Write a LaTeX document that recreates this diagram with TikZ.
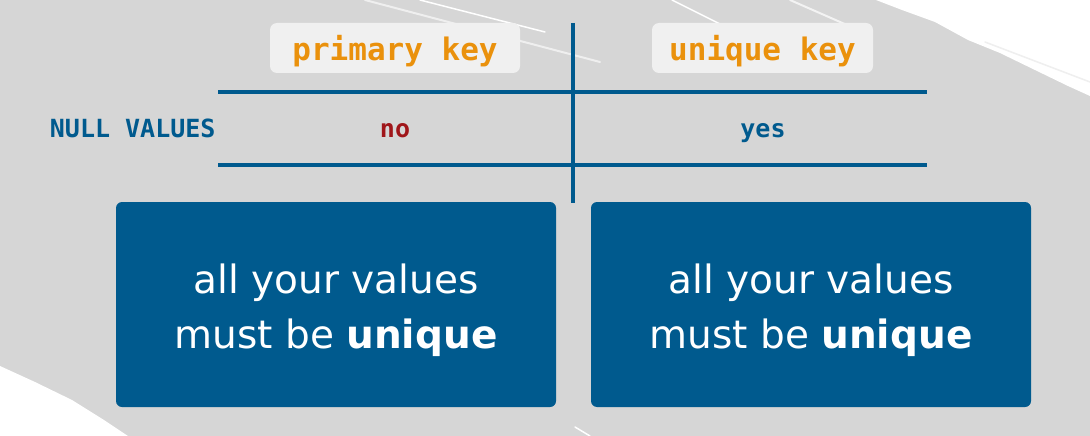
\documentclass[tikz,border=0pt]{standalone}
\usepackage{fontspec}
\setmainfont{DejaVu Sans}
\newfontfamily\keymono{DejaVu Sans Mono}
\usetikzlibrary{positioning}
\definecolor{deepblue}{RGB}{0,90,142}
\definecolor{keyorange}{RGB}{234,145,12}
\definecolor{darkred}{RGB}{160,22,26}
\definecolor{bggray}{RGB}{214,214,214}
\definecolor{tagwhite}{RGB}{240,240,240}

\begin{document}
\begin{tikzpicture}
    [x=1pt,y=-1pt,%
      keytag/.style={shape=rectangle,rounded corners=7pt,fill=tagwhite,minimum height=50pt,text height=26pt,text depth=2pt,text=keyorange,font=\keymono\bfseries\fontsize{31}{37}\selectfont},%
      cell/.style={anchor=base,font=\keymono\bfseries\fontsize{25}{30}\selectfont},%
      rule/.style={draw=deepblue,line width=3.5pt},%
      bluebox/.style={shape=rectangle,rounded corners=6pt,fill=deepblue,minimum width=440pt,minimum height=205pt},%
      boxtext/.style={text=white,align=center,font=\fontsize{39}{55}\selectfont},%
      brush/.style={fill=white},%
      streak/.style={draw=white,line cap=round}]
    \useasboundingbox (0,0) rectangle (1090,436);
    \fill[bggray] (0,0) rectangle (1090,436);
    \fill[brush] (876,0) -- (1090,0) -- (1090,96) -- (1068,86) -- (1035,70) -- (1000,53)
          -- (968,40) -- (935,22) -- (902,10) -- cycle;
    \fill[brush] (0,366) -- (35,382) -- (72,400) -- (104,420) -- (128,436) -- (0,436) -- cycle;
    \draw[streak,line width=2pt,white!60!bggray] (365,0) -- (600,62);
    \draw[streak,line width=1.5pt] (420,0) -- (545,32);
    \draw[streak,line width=1.5pt] (672,0) -- (722,25);
    \draw[streak,line width=2pt,white!70!bggray] (790,0) -- (872,36);
    \draw[streak,line width=1.5pt,white!60!bggray] (985,42) -- (1090,82);
    \draw[streak,line width=1.5pt] (575,427) -- (590,436);
    \node[keytag,minimum width=250pt] (primary) at (395,48) {primary key};
    \node[keytag,minimum width=221pt] (unique) at (762.5,48) {unique key};
    \node[cell,text=deepblue,anchor=base east] (nullvals) at (219,137) {NULL VALUES};
    \node[cell,text=darkred] (no) at (395,137) {no};
    \node[cell,text=deepblue] (yes) at (763,137) {yes};
    \coordinate (upperL) at (218,92);
    \coordinate (upperR) at (927,92);
    \coordinate (lowerL) at (218,165);
    \coordinate (lowerR) at (927,165);
    \coordinate (splitT) at (573,23);
    \coordinate (splitB) at (573,203);
    \draw[rule] (upperL) -- (upperR);
    \draw[rule] (lowerL) -- (lowerR);
    \draw[rule] (splitT) -- (splitB);
    \node[bluebox] (pkbox) at (336,304.5) {};
    \node[bluebox] (ukbox) at (811,304.5) {};
    \node[boxtext] (pktext) at ([yshift=-6pt]pkbox.center) {all your values\\must be \textbf{unique}};
    \node[boxtext] (uktext) at ([yshift=-6pt]ukbox.center) {all your values\\must be \textbf{unique}};
\end{tikzpicture}
\end{document}
